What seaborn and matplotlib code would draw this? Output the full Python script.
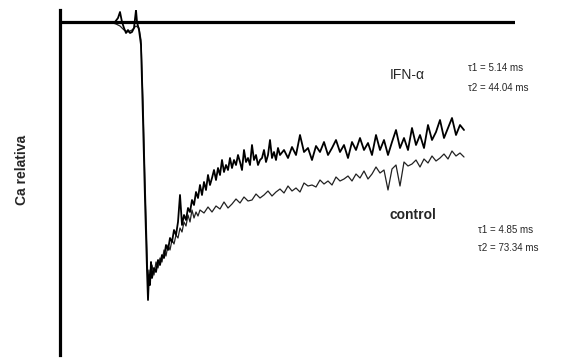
import matplotlib
matplotlib.use("Agg")
import matplotlib.pyplot as plt
import seaborn as sns
import pandas as pd

# time (ms) and relative Ca (a.u.)
t_ifn = [-40, -30, -25, -22, -20, -18, -16, -14, -12, -10, -8, -6, -4, -3, -1, 1, 3, 5, 7, 8, 9, 10, 11, 12,
         14, 16, 18, 20, 22, 24, 26, 28, 30, 32, 34, 36, 38, 40, 42, 44, 46, 48, 50, 52, 54, 56, 58, 60,
         62, 64, 66, 68, 70, 72, 74, 76, 78, 80, 82, 84, 86, 88, 90, 92, 94, 96, 98, 100, 102, 104, 106,
         108, 110, 112, 114, 116, 118, 120, 122, 124, 126, 128, 130, 132, 134, 136, 138, 140, 144, 148,
         152, 156, 160, 164, 168, 172, 176, 180, 184, 188, 192, 196, 200, 204, 208, 212, 216, 220, 224,
         228, 232, 236, 240, 244, 248, 252, 256, 260, 264, 268, 272, 276, 280, 284, 288, 292, 296, 300,
         304, 308, 312, 316, 320, 324]
ca_ifn = [3.00, 2.99, 3.00, 3.04, 3.10, 3.00, 2.94, 2.89, 2.92, 2.89, 2.90, 2.94, 3.12, 3.00, 2.92, 2.77,
          2.02, 1.22, 0.52, 0.22, 0.47, 0.37, 0.60, 0.44, 0.54, 0.50, 0.62, 0.57, 0.67, 0.64, 0.77, 0.72,
          0.84, 0.80, 0.92, 0.87, 1.00, 1.27, 0.97, 1.07, 1.02, 1.14, 1.10, 1.22, 1.17, 1.30, 1.24, 1.37,
          1.27, 1.40, 1.32, 1.47, 1.37, 1.44, 1.52, 1.42, 1.54, 1.47, 1.62, 1.50, 1.57, 1.52, 1.64, 1.54,
          1.62, 1.57, 1.67, 1.60, 1.52, 1.72, 1.60, 1.64, 1.57, 1.77, 1.62, 1.67, 1.57, 1.62, 1.64, 1.72,
          1.60, 1.67, 1.82, 1.64, 1.70, 1.62, 1.74, 1.67, 1.72, 1.64, 1.75, 1.67, 1.87, 1.70, 1.74, 1.62,
          1.76, 1.70, 1.80, 1.67, 1.74, 1.82, 1.70, 1.77, 1.64, 1.80, 1.72, 1.84, 1.72, 1.79, 1.67, 1.87,
          1.72, 1.82, 1.67, 1.80, 1.92, 1.74, 1.84, 1.72, 1.94, 1.77, 1.87, 1.74, 1.97, 1.82, 1.90, 2.02,
          1.84, 1.94, 2.04, 1.87, 1.97, 1.92]

t_ctrl = [-40, -30, -24, -20, -16, -12, -8, -4, -1, 1, 3, 5, 7, 8, 9, 10, 12, 14, 16, 18, 20, 22, 24, 26,
          28, 30, 32, 34, 36, 38, 40, 42, 44, 46, 48, 50, 52, 54, 56, 58, 60, 64, 68, 72, 76, 80, 84, 88,
          92, 96, 100, 104, 108, 112, 116, 120, 124, 128, 132, 136, 140, 144, 148, 152, 156, 160, 164,
          168, 172, 176, 180, 184, 188, 192, 196, 200, 204, 208, 212, 216, 220, 224, 228, 232, 236, 240,
          244, 248, 252, 256, 260, 264, 268, 272, 276, 280, 284, 288, 292, 296, 300, 304, 308, 312, 316,
          320, 324]
ca_ctrl = [2.99, 3.00, 2.98, 2.96, 2.92, 2.90, 2.92, 2.96, 2.94, 2.82, 2.22, 1.42, 0.72, 0.32, 0.52, 0.42,
           0.57, 0.47, 0.60, 0.54, 0.64, 0.60, 0.72, 0.66, 0.77, 0.72, 0.82, 0.78, 0.87, 0.84, 0.94, 0.90,
           1.00, 0.96, 1.07, 1.00, 1.12, 1.04, 1.10, 1.06, 1.12, 1.09, 1.15, 1.10, 1.16, 1.13, 1.20, 1.14,
           1.18, 1.23, 1.19, 1.25, 1.21, 1.22, 1.28, 1.24, 1.27, 1.31, 1.26, 1.30, 1.33, 1.29, 1.36, 1.31,
           1.34, 1.30, 1.39, 1.36, 1.37, 1.35, 1.42, 1.38, 1.41, 1.37, 1.45, 1.41, 1.43, 1.46, 1.41, 1.48,
           1.44, 1.51, 1.43, 1.48, 1.55, 1.49, 1.52, 1.32, 1.53, 1.57, 1.36, 1.60, 1.56, 1.58, 1.62, 1.55,
           1.63, 1.59, 1.66, 1.61, 1.64, 1.68, 1.63, 1.71, 1.66, 1.69, 1.65]

baseline = 3.0
tick_level = 1.17

labels = ["IFN-α", "control"]
tau1 = ["5.14", "4.85"]
tau2 = ["44.04", "73.34"]

sns.set_style("white")
plt.rcParams["font.family"] = ["Liberation Sans", "DejaVu Sans"]

df_ifn = pd.DataFrame({"t": t_ifn, "ca": ca_ifn})
df_ctrl = pd.DataFrame({"t": t_ctrl, "ca": ca_ctrl})

fig = plt.figure(figsize=(5.70, 3.59), dpi=100)
ax = fig.add_axes([60 / 570, 4 / 359, 455 / 570, 345 / 359])

sns.lineplot(data=df_ctrl, x="t", y="ca", ax=ax, color="#222222", linewidth=0.9, estimator=None, sort=False)
sns.lineplot(data=df_ifn, x="t", y="ca", ax=ax, color="black", linewidth=1.3, estimator=None, sort=False)

ax.axhline(baseline, color="black", linewidth=2.3)

ax.set_xlim(-80, 375)
ax.set_ylim(-0.33, 3.12)
for s in ["top", "right", "bottom"]:
    ax.spines[s].set_visible(False)
ax.spines["left"].set_linewidth(2.3)
ax.spines["left"].set_color("black")
ax.set_xticks([])
ax.set_yticks([tick_level])
ax.set_yticklabels([])
ax.tick_params(axis="y", direction="inout", length=12, width=1.6, color="black")
ax.set_xlabel("")
ax.set_ylabel("")

ax.text(250, 2.47, labels[0], fontsize=10, ha="left", va="center")
ax.text(328, 2.54, "τ1 = " + tau1[0] + " ms", fontsize=7, ha="left", va="center")
ax.text(328, 2.34, "τ2 = " + tau2[0] + " ms", fontsize=7, ha="left", va="center")
ax.text(250, 1.07, labels[1], fontsize=10, fontweight="bold", ha="left", va="center")
ax.text(338, 0.92, "τ1 = " + tau1[1] + " ms", fontsize=7, ha="left", va="center")
ax.text(338, 0.74, "τ2 = " + tau2[1] + " ms", fontsize=7, ha="left", va="center")

fig.text(22 / 570, 1 - 170 / 359, "Ca relativa", rotation=90, fontsize=10, fontweight="bold",
         ha="center", va="center")

fig.savefig("out.png", dpi=100, facecolor="white")
